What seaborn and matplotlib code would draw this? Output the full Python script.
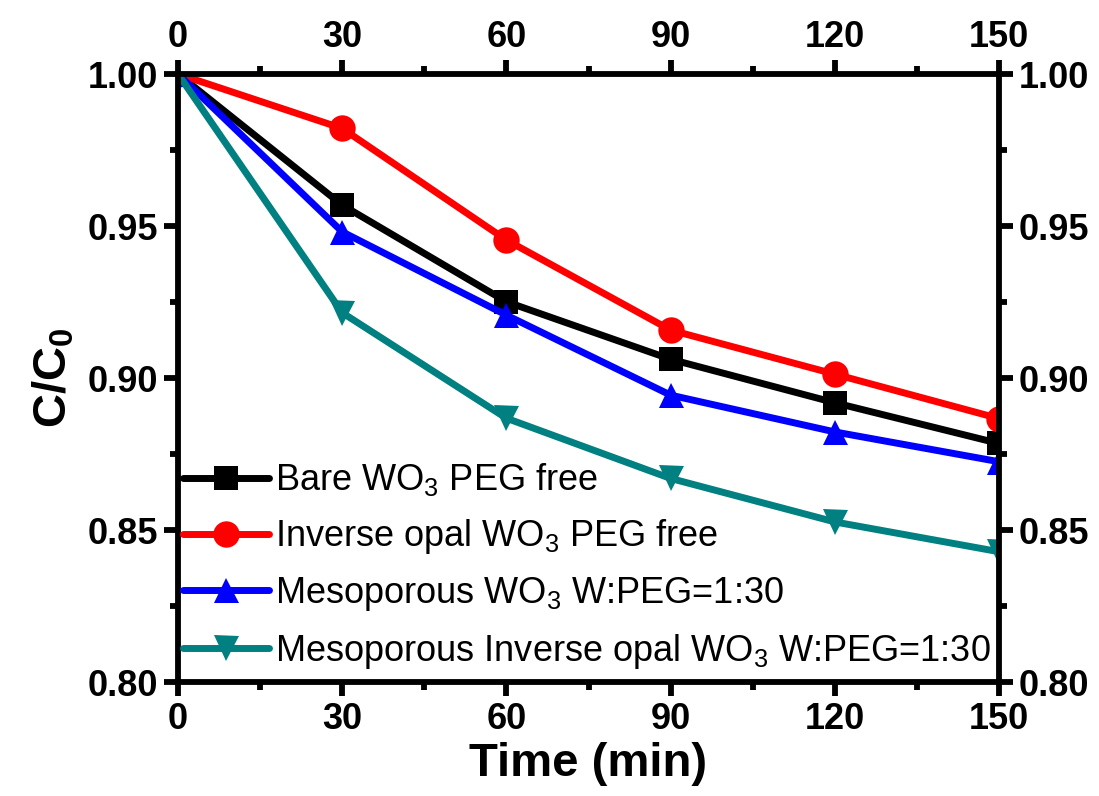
import matplotlib
matplotlib.use("Agg")
import matplotlib.pyplot as plt
from matplotlib.ticker import MultipleLocator, FormatStrFormatter
import seaborn as sns
import pandas as pd

sns.set_theme(style="white")
plt.rcParams['font.family'] = ['Liberation Sans', 'DejaVu Sans']
plt.rcParams['mathtext.fontset'] = 'custom'
plt.rcParams['mathtext.rm'] = 'Liberation Sans'
plt.rcParams['mathtext.bf'] = 'Liberation Sans:bold'
plt.rcParams['text.color'] = 'black'
plt.rcParams['axes.labelcolor'] = 'black'
plt.rcParams['xtick.color'] = 'black'
plt.rcParams['ytick.color'] = 'black'

# data
time_min = [0, 30, 60, 90, 120, 150]
bare = [1.000, 0.9569, 0.9251, 0.9062, 0.8919, 0.8785]
inverse_opal = [1.000, 0.9821, 0.9454, 0.9158, 0.9013, 0.8867]
mesoporous = [1.000, 0.9481, 0.9207, 0.8944, 0.8823, 0.8725]
meso_inverse = [1.000, 0.9215, 0.8868, 0.8670, 0.8527, 0.8429]

labels = [r"Bare WO$_3$ PEG free",
          r"Inverse opal WO$_3$ PEG free",
          r"Mesoporous WO$_3$ W:PEG=1:30",
          r"Mesoporous Inverse opal WO$_3$ W:PEG=1:30"]
series = [bare, inverse_opal, mesoporous, meso_inverse]
colors = ["#000000", "#ff0000", "#0000ff", "#008080"]
markers = ["s", "o", "^", "v"]
msizes = [17, 19, 18, 18]

fig = plt.figure(figsize=(10.99, 7.96), dpi=100)
ax = fig.add_axes([0.162, 0.143, 0.747, 0.764])

for lab, vals, c, m, ms in zip(labels, series, colors, markers, msizes):
    df = pd.DataFrame({"t": time_min, "c": vals})
    sns.lineplot(data=df, x="t", y="c", ax=ax, color=c, marker=m, markersize=ms,
                 markeredgecolor=c, markeredgewidth=0, linewidth=5, label=lab)

ax.set_xlim(0, 150)
ax.set_ylim(0.80, 1.00)
ax.xaxis.set_major_locator(MultipleLocator(30))
ax.xaxis.set_minor_locator(MultipleLocator(15))
ax.yaxis.set_major_locator(MultipleLocator(0.05))
ax.yaxis.set_minor_locator(MultipleLocator(0.025))
ax.yaxis.set_major_formatter(FormatStrFormatter('%.2f'))

for sp in ax.spines.values():
    sp.set_linewidth(4.2)
    sp.set_color("black")
    sp.set_zorder(5)

ax.tick_params(which='both', direction='out', top=True, right=True,
               bottom=True, left=True, labeltop=True, labelright=True,
               color='black', width=4.2)
ax.tick_params(which='major', length=10, labelsize=26, pad=4)
ax.tick_params(which='minor', length=6)
plt.setp(ax.xaxis.get_ticklabels(), fontweight='bold')
plt.setp(ax.yaxis.get_ticklabels(), fontweight='bold')

ax.set_xlabel("Time (min)", fontsize=34, fontweight='bold', labelpad=4)
ax.set_ylabel(r"C/C$_\mathbf{0}$", fontsize=34, fontweight='bold', labelpad=8)

leg = ax.legend(loc='lower left', bbox_to_anchor=(-0.012, -0.005), frameon=False,
                fontsize=26, handlelength=2.4, handletextpad=0.15,
                labelspacing=0.52, borderaxespad=0.2, borderpad=0.2)

fig.savefig("out.png", dpi=100)
